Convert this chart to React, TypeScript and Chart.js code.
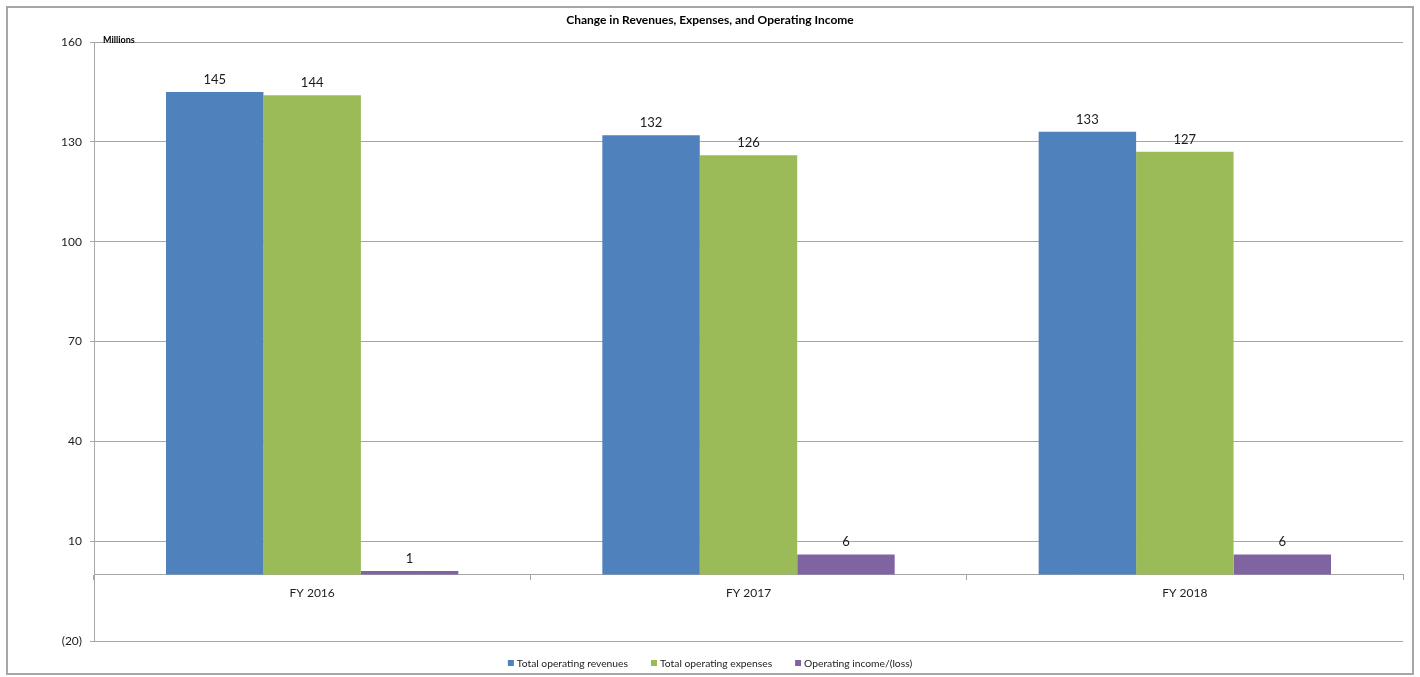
import React, { useEffect, useRef } from "react";
import { Chart, registerables } from "chart.js";

Chart.register(...registerables);

const categories = ["FY 2016", "FY 2017", "FY 2018"];
const revenues = [145, 132, 133];
const expenses = [144, 126, 127];
const operatingIncome = [1, 6, 6];
const seriesNames = ["Total operating revenues", "Total operating expenses", "Operating income/(loss)"];
const seriesColors = ["#4F81BD", "#9BBB59", "#8064A2"];
const yMin = -20;
const yMax = 160;
const yStep = 30;
const titleText = "Change in Revenues, Expenses, and Operating Income";
const unitText = "Millions";

const FONT = "Lato, 'Open Sans', sans-serif";

const decorPlugin = {
  id: "decor",
  afterDraw(chart: any) {
    const ctx = chart.ctx;
    const area = chart.chartArea;
    ctx.save();
    // outer border
    ctx.strokeStyle = "#A6A6A6";
    ctx.lineWidth = 2;
    ctx.strokeRect(7, 7, 1406, 667);
    // title
    ctx.fillStyle = "#000";
    ctx.font = `bold 12px ${FONT}`;
    ctx.textAlign = "center";
    ctx.textBaseline = "middle";
    ctx.fillText(titleText, 710, 20);
    // unit
    ctx.font = `bold 9px ${FONT}`;
    ctx.textAlign = "left";
    ctx.fillText(unitText, area.left + 9, area.top - 2);
    // data labels
    ctx.font = `13px ${FONT}`;
    ctx.fillStyle = "#1a1a1a";
    ctx.textAlign = "center";
    ctx.textBaseline = "bottom";
    chart.data.datasets.forEach((ds: any, i: number) => {
      const meta = chart.getDatasetMeta(i);
      meta.data.forEach((bar: any, j: number) => {
        ctx.fillText(String(ds.data[j]), bar.x, bar.y - 6);
      });
    });
    // legend
    ctx.font = `10.3px ${FONT}`;
    ctx.textBaseline = "middle";
    ctx.textAlign = "left";
    const box = 6;
    const gap = 3;
    const spacing = 23;
    const widths = seriesNames.map((n) => ctx.measureText(n).width);
    const total = widths.reduce((a, w) => a + box + gap + w, 0) + spacing * (seriesNames.length - 1);
    let x = 710 - total / 2;
    const y = 663;
    seriesNames.forEach((n, i) => {
      ctx.fillStyle = seriesColors[i];
      ctx.fillRect(x, y - box / 2, box, box);
      ctx.fillStyle = "#222";
      ctx.fillText(n, x + box + gap, y + 0.5);
      x += box + gap + widths[i] + spacing;
    });
    ctx.restore();
  },
};

export default function App() {
  const ref = useRef<HTMLCanvasElement>(null);
  useEffect(() => {
    if (!ref.current) return;
    const chart = new Chart(ref.current, {
      type: "bar",
      data: {
        labels: categories,
        datasets: [
          { label: seriesNames[0], data: revenues, backgroundColor: seriesColors[0] },
          { label: seriesNames[1], data: expenses, backgroundColor: seriesColors[1] },
          { label: seriesNames[2], data: operatingIncome, backgroundColor: seriesColors[2] },
        ],
      },
      options: {
        animation: false,
        responsive: false,
        maintainAspectRatio: false,
        layout: { padding: { left: 10, right: 17, top: 42, bottom: 36 } },
        datasets: { bar: { categoryPercentage: 0.67, barPercentage: 1.0 } },
        plugins: {
          legend: { display: false },
          title: { display: false },
          tooltip: { enabled: false },
        },
        scales: {
          x: {
            position: { y: 0 } as any,
            grid: {
              display: true,
              drawOnChartArea: false,
              drawTicks: true,
              tickLength: 5,
              color: "#A6A6A6",
              offset: true,
            },
            border: { display: true, color: "#A6A6A6", width: 1 },
            ticks: { color: "#222", font: { family: FONT, size: 12 }, padding: 6 },
          },
          y: {
            min: yMin,
            max: yMax,
            afterFit: (s: any) => {
              s.width = 84;
            },
            grid: { color: "#A6A6A6", tickLength: 4, lineWidth: 1 },
            border: { display: true, color: "#A6A6A6" },
            ticks: {
              stepSize: yStep,
              color: "#222",
              font: { family: FONT, size: 12 },
              padding: 8,
              callback: (v: any) => (v < 0 ? `(${Math.abs(v)})` : String(v)),
            },
          },
        },
      },
      plugins: [decorPlugin],
    });
    return () => chart.destroy();
  }, []);
  return (
    <div style={{ position: "absolute", left: 0, top: 0, width: 1420, height: 677, background: "#fff" }}>
      <canvas ref={ref} width={1420} height={677} style={{ width: 1420, height: 677, display: "block" }} />
    </div>
  );
}
